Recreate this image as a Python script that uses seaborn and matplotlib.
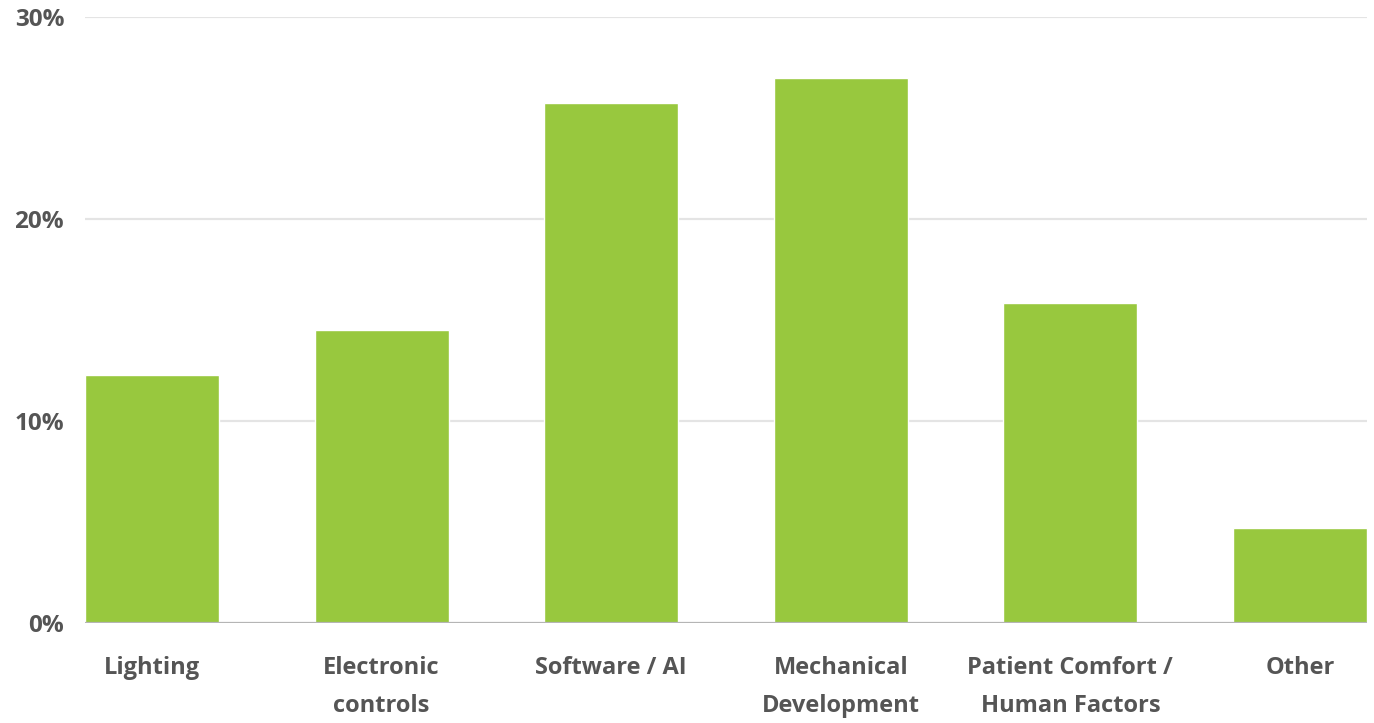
import matplotlib
matplotlib.use("Agg")
import matplotlib.pyplot as plt
import seaborn as sns
import pandas as pd
from matplotlib.ticker import FuncFormatter

categories = ["Lighting", "Electronic\ncontrols", "Software / AI", "Mechanical\nDevelopment",
              "Patient Comfort /\nHuman Factors", "Other"]
shares = [12.3, 14.5, 25.75, 27.0, 15.85, 4.7]
y_ticks = [0, 10, 20, 30]

df = pd.DataFrame({"category": categories, "share": shares})

sns.set_theme(style="white")
plt.rcParams["font.family"] = ["Open Sans", "DejaVu Sans"]

fig = plt.figure(figsize=(13.74, 7.23), dpi=100)
ax = fig.add_axes([85 / 1374, 100 / 723, (1367 - 85) / 1374, 606 / 723])

bar_w = 0.585
sns.barplot(data=df, x="category", y="share", color="#98c83e", saturation=1,
            width=bar_w, ax=ax, zorder=2)

ax.set_xlim(-bar_w / 2, len(categories) - 1 + bar_w / 2)
ax.set_ylim(0, 30)
ax.set_yticks(y_ticks)
ax.yaxis.set_major_formatter(FuncFormatter(lambda v, _: f"{int(v)}%"))
ax.set_xlabel("")
ax.set_ylabel("")

for v in y_ticks[1:]:
    ax.axhline(v, color="#e4e4e4", lw=1.6, zorder=1)
ax.axhline(0, color="#b5b5b5", lw=1.6, zorder=3)

for s in ax.spines.values():
    s.set_visible(False)

ax.tick_params(axis="y", length=0, pad=15, labelsize=17.5, labelcolor="#555555")
ax.tick_params(axis="x", length=0, pad=24, labelsize=17, labelcolor="#555555")
for lbl in ax.get_xticklabels() + ax.get_yticklabels():
    lbl.set_fontweight("bold")
for lbl in ax.get_xticklabels():
    lbl.set_linespacing(1.75)
    lbl.set_verticalalignment("top")

fig.savefig("out.png", dpi=100, facecolor="white")
